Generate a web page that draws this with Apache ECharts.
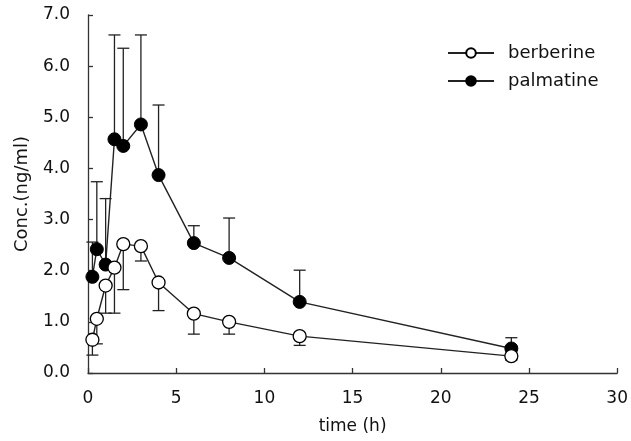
<!DOCTYPE html>
<html>
<head>
<meta charset="utf-8">
<script src="https://cdn.jsdelivr.net/npm/echarts@6/dist/echarts.min.js"></script>
<style>
html, body { margin: 0; padding: 0; background: #fff; }
#main { width: 631px; height: 441px; }
</style>
</head>
<body>
<div id="main"></div>
<script>
var times = [0.25, 0.5, 1, 1.5, 2, 3, 4, 6, 8, 12, 24];
var berberine = [0.65, 1.06, 1.71, 2.06, 2.52, 2.48, 1.77, 1.16, 1.0, 0.72, 0.33];
var berberineLow = [0.35, 0.57, 1.17, 1.17, 1.63, 2.19, 1.22, 0.76, 0.76, 0.54, 0.25];
var palmatine = [1.88, 2.42, 2.12, 4.57, 4.44, 4.86, 3.87, 2.54, 2.25, 1.39, 0.48];
var palmatineHigh = [2.56, 3.74, 3.41, 6.61, 6.35, 6.61, 5.24, 2.88, 3.03, 2.01, 0.69];
var xTicks = [0, 5, 10, 15, 20, 25, 30];
var yTicks = [0, 1, 2, 3, 4, 5, 6, 7];

function pairs(xs, ys) {
    var out = [];
    for (var i = 0; i < xs.length; i++) {
        out.push([xs[i], ys[i]]);
    }
    return out;
}

function errorData(xs, from, to) {
    var out = [];
    for (var i = 0; i < xs.length; i++) {
        out.push([xs[i], from[i], to[i]]);
    }
    return out;
}

function renderErrorBar(params, api) {
    var a = api.coord([api.value(0), api.value(1)]);
    var b = api.coord([api.value(0), api.value(2)]);
    var half = 6;
    var style = { stroke: '#222', lineWidth: 1.3 };
    return {
        type: 'group',
        children: [
            { type: 'line', shape: { x1: a[0], y1: a[1], x2: b[0], y2: b[1] }, style: style },
            { type: 'line', shape: { x1: b[0] - half, y1: b[1], x2: b[0] + half, y2: b[1] }, style: style }
        ]
    };
}

var font = 'DejaVu Sans';
var myChart = echarts.init(document.getElementById('main'), null, { width: 631, height: 441 });

var option = {
    animation: false,
    backgroundColor: '#fff',
    grid: { left: 88, right: 13, top: 15, bottom: 68 },
    legend: {
        orient: 'vertical',
        left: 447,
        top: 44,
        padding: 0,
        itemWidth: 46,
        itemHeight: 12,
        itemGap: 10,
        textStyle: { fontFamily: font, fontSize: 18, color: '#111', padding: [0, 0, 0, 9] },
        data: ['berberine', 'palmatine']
    },
    xAxis: {
        type: 'value',
        min: xTicks[0],
        max: xTicks[xTicks.length - 1],
        interval: 5,
        name: 'time (h)',
        nameLocation: 'middle',
        nameGap: 45,
        nameTextStyle: { fontFamily: font, fontSize: 17, color: '#111' },
        axisLine: { lineStyle: { color: '#333', width: 1.3 } },
        axisTick: { inside: true, length: 5, lineStyle: { color: '#333', width: 1.3 } },
        axisLabel: { fontFamily: font, fontSize: 17, color: '#111', margin: 17 },
        splitLine: { show: false }
    },
    yAxis: {
        type: 'value',
        min: yTicks[0],
        max: yTicks[yTicks.length - 1],
        interval: 1,
        name: 'Conc.(ng/ml)',
        nameLocation: 'middle',
        nameGap: 57,
        nameTextStyle: { fontFamily: font, fontSize: 18, color: '#111' },
        axisLine: { show: true, lineStyle: { color: '#333', width: 1.3 } },
        axisTick: { show: true, inside: true, length: 5, lineStyle: { color: '#333', width: 1.3 } },
        axisLabel: {
            fontFamily: font, fontSize: 17, color: '#111', margin: 18,
            formatter: function (v) { return v.toFixed(1); }
        },
        splitLine: { show: false }
    },
    series: [
        {
            type: 'custom',
            name: 'berberineErr',
            renderItem: renderErrorBar,
            data: errorData(times, berberine, berberineLow),
            z: 1,
            silent: true
        },
        {
            type: 'custom',
            name: 'palmatineErr',
            renderItem: renderErrorBar,
            data: errorData(times, palmatine, palmatineHigh),
            z: 1,
            silent: true
        },
        {
            type: 'line',
            name: 'palmatine',
            data: pairs(times, palmatine),
            symbol: 'circle',
            symbolSize: 13,
            showAllSymbol: true,
            lineStyle: { color: '#222', width: 1.4 },
            itemStyle: { color: '#000', borderColor: '#000', borderWidth: 1 },
            z: 3
        },
        {
            type: 'line',
            name: 'berberine',
            data: pairs(times, berberine),
            symbol: 'circle',
            symbolSize: 13,
            showAllSymbol: true,
            lineStyle: { color: '#222', width: 1.4 },
            itemStyle: { color: '#fff', borderColor: '#000', borderWidth: 1.3 },
            z: 4
        }
    ]
};

myChart.setOption(option);
</script>
</body>
</html>
